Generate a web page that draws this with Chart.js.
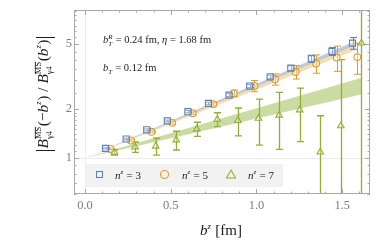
<!DOCTYPE html>
<html>
<head>
<meta charset="utf-8">
<script src="https://cdn.jsdelivr.net/npm/chart.js@4.4.1/dist/chart.umd.min.js"></script>
<style>
  html, body { margin: 0; padding: 0; background: #fff; }
  #c { display: block; }
</style>
</head>
<body>
<canvas id="c" width="382" height="243"></canvas>
<script>
// b^z positions (fm) and the small horizontal shift used for each n^z series
const bz = [0.12, 0.24, 0.36, 0.48, 0.60, 0.72, 0.84, 0.96, 1.08, 1.20, 1.32, 1.44, 1.56];
const shift3 = 0.0, shift5 = 0.028, shift7 = 0.052;

// n^z = 3 (blue squares)
const ratio3 = [1.144, 1.306, 1.488, 1.688, 1.923, 2.16, 2.43, 2.76, 3.146, 3.56, 4.07, 4.51, 5.07];
const err3 = [0.01, 0.015, 0.02, 0.02, 0.03, 0.04, 0.05, 0.06, 0.08, 0.12, 0.2, 0.26, 0.42];
// n^z = 5 (orange circles)
const ratio5 = [1.135, 1.28, 1.446, 1.641, 1.881, 2.14, 2.49, 2.77, 3.04, 3.37, 3.80, 4.13, 4.16];
const err5 = [0.01, 0.015, 0.02, 0.03, 0.04, 0.06, 0.12, 0.22, 0.24, 0.32, 0.49, 0.73, 0.9];
// n^z = 7 (green triangles)
const ratio7 = [1.082, 1.167, 1.18, 1.288, 1.505, 1.724, 1.695, 1.748, 1.829, 1.970, 1.085, 1.574, 5.07];
const err7 = [0.04, 0.085, 0.14, 0.17, 0.15, 0.17, 0.33, 0.55, 0.7, 0.71, 0.73, 2.44, 20];

// fit bands: [start, end] in b^z with lower/upper edges
const bandX3 = [0, 1.58], band3Lo = [1, 4.95], band3Hi = [1, 5.25];
const bandX5 = [0, 1.58], band5Lo = [1, 4.6], band5Hi = [1, 5.0];
const bandX7 = [0, 1.61], band7Lo = [1, 2.45], band7Hi = [1, 3.1];

// axis ticks
const xMajor = [0, 0.5, 1.0, 1.5];
const xLabels = ["0.0", "0.5", "1.0", "1.5"];
const xMinor = [0.1, 0.2, 0.3, 0.4, 0.6, 0.7, 0.8, 0.9, 1.1, 1.2, 1.3, 1.4, 1.6];
const yMajor = [1, 2, 5];
const yLabels = ["1", "2", "5"];
const yMinor = [0.6, 0.7, 0.8, 0.9, 1.1, 1.2, 1.3, 1.4, 1.5, 1.6, 1.7, 1.8, 1.9,
                2.5, 3, 3.5, 4, 4.5, 5.5, 6, 6.5, 7, 7.5, 8];

const BLUE = "#5e81b5", ORANGE = "#e19c24", GREEN = "#8fb032";
const SERIF = "'Liberation Serif', 'DejaVu Serif', serif";

function pts(xs, ys, dx = 0) {
  return xs.map((x, i) => ({ x: x + dx, y: ys[i] }));
}

function band(xs, lo, hi, color) {
  return [
    { data: pts(xs, lo), borderWidth: 0, pointRadius: 0, fill: false, order: 10, showLine: true },
    { data: pts(xs, hi), borderWidth: 0, pointRadius: 0, fill: "-1", backgroundColor: color, order: 10, showLine: true },
  ];
}

function series(dx, ys, errs, color, style, r, ew) {
  return {
    data: pts(bz, ys, dx),
    errors: errs,
    errWidth: ew,
    pointStyle: style,
    pointRadius: r,
    borderColor: color,
    backgroundColor: "rgba(255,255,255,0.35)",
    pointBorderWidth: 1.1,
    showLine: false,
    order: 0,
  };
}

// rich text: plain pieces plus stacked sup/sub pieces
function rich(ctx, parts, x0, y0, base, draw) {
  let x = x0;
  for (const p of parts) {
    if (p.sup !== undefined || p.sub !== undefined) {
      const fs = p.fs || Math.round(base * 0.6);
      ctx.font = `${p.i ? "italic " : ""}${fs}px ${SERIF}`;
      const w1 = p.sup ? ctx.measureText(p.sup).width : 0;
      const w2 = p.sub ? ctx.measureText(p.sub).width : 0;
      if (draw) {
        if (p.sup) ctx.fillText(p.sup, x, y0 - base * 0.42);
        if (p.sub) ctx.fillText(p.sub, x, y0 + base * 0.25);
        if (p.ol) {
          ctx.fillRect(x, y0 - base * 0.42 - fs * 0.78, w1, 0.8);
        }
      }
      x += Math.max(w1, w2) + 0.5;
    } else {
      const fs = p.s || base;
      ctx.font = `${p.i ? "italic " : ""}${fs}px ${SERIF}`;
      const w = ctx.measureText(p.t).width;
      if (draw) ctx.fillText(p.t, x, y0 + (p.dy || 0));
      x += w;
    }
  }
  return x - x0;
}

const decorPlugin = {
  id: "decor",
  beforeDatasetsDraw(chart) {
    const { ctx, chartArea: a, scales: { x, y } } = chart;
    ctx.save();
    ctx.strokeStyle = "#ececec";
    ctx.lineWidth = 1;
    ctx.beginPath();
    const x0 = Math.round(x.getPixelForValue(0)) + 0.5;
    ctx.moveTo(x0, a.top); ctx.lineTo(x0, a.bottom);
    const y1 = Math.round(y.getPixelForValue(1)) + 0.5;
    ctx.moveTo(a.left, y1); ctx.lineTo(a.right, y1);
    ctx.stroke();
    ctx.restore();
  },
  beforeDatasetDraw(chart, args) {
    const ds = chart.data.datasets[args.index];
    if (!ds.errors) return;
    const { ctx, chartArea: a, scales: { x, y } } = chart;
    ctx.save();
    ctx.beginPath();
    ctx.rect(a.left, a.top, a.right - a.left, a.bottom - a.top);
    ctx.clip();
    ctx.strokeStyle = ds.borderColor;
    ctx.lineWidth = ds.errWidth;
    ds.data.forEach((p, i) => {
      const e = ds.errors[i];
      const px = Math.round(x.getPixelForValue(p.x)) + 0.5;
      const hi = y.getPixelForValue(p.y + e);
      const loV = p.y - e;
      const lo = loV > 0 ? y.getPixelForValue(loV) : a.bottom + 10;
      ctx.beginPath();
      ctx.moveTo(px, hi); ctx.lineTo(px, lo);
      ctx.moveTo(px - 3.5, hi); ctx.lineTo(px + 3.5, hi);
      ctx.moveTo(px - 3.5, lo); ctx.lineTo(px + 3.5, lo);
      ctx.stroke();
    });
    ctx.restore();
  },
  afterDatasetsDraw(chart) {
    const { ctx, chartArea: a, scales: { x, y } } = chart;
    ctx.save();

    // legend box
    ctx.fillStyle = "rgba(240,240,240,0.85)";
    ctx.fillRect(85, 164, 198, 23);
    const ly = 175;
    ctx.lineWidth = 1.1;
    ctx.strokeStyle = BLUE;
    ctx.strokeRect(96.5, ly - 3.5, 6, 6);
    ctx.strokeStyle = ORANGE;
    ctx.beginPath(); ctx.arc(164.5, ly - 0.5, 4, 0, Math.PI * 2); ctx.stroke();
    ctx.strokeStyle = GREEN;
    ctx.beginPath();
    ctx.moveTo(231, ly - 5); ctx.lineTo(235.5, ly + 3); ctx.lineTo(226.5, ly + 3); ctx.closePath();
    ctx.stroke();
    ctx.fillStyle = "#222";
    ctx.textBaseline = "alphabetic";
    ctx.textAlign = "left";
    [["3", 115], ["5", 182], ["7", 248]].forEach(([n, lx]) => {
      rich(ctx, [{ t: "n", i: 1 }, { sup: "z", i: 1, fs: 7 }, { t: " = " + n }], lx, ly + 4, 11, true);
    });

    // annotations
    rich(ctx, [{ t: "b", i: 1 }, { sup: "R", sub: "T", i: 1, fs: 7 }, { t: " = 0.24 fm, " },
               { t: "η", i: 1 }, { t: " = 1.68 fm" }], 103, 43, 10.5, true);
    rich(ctx, [{ t: "b", i: 1 }, { sub: "T", i: 1, fs: 7 }, { t: " = 0.12 fm" }], 103, 71, 10.5, true);

    // frame
    ctx.strokeStyle = "#a8a8a8";
    ctx.lineWidth = 1;
    ctx.strokeRect(a.left + 0.5, a.top + 0.5, a.right - a.left - 1, a.bottom - a.top - 1);

    // ticks (inward, all four sides)
    ctx.beginPath();
    const tx = (v, len) => {
      const px = Math.round(x.getPixelForValue(v)) + 0.5;
      ctx.moveTo(px, a.bottom); ctx.lineTo(px, a.bottom - len);
      ctx.moveTo(px, a.top); ctx.lineTo(px, a.top + len);
    };
    const ty = (v, len) => {
      const py = Math.round(y.getPixelForValue(v)) + 0.5;
      ctx.moveTo(a.left, py); ctx.lineTo(a.left + len, py);
      ctx.moveTo(a.right, py); ctx.lineTo(a.right - len, py);
    };
    xMajor.forEach((v) => tx(v, 5));
    xMinor.forEach((v) => tx(v, 2.5));
    yMajor.forEach((v) => ty(v, 5));
    yMinor.forEach((v) => ty(v, 2.5));
    ctx.stroke();

    // tick labels
    ctx.fillStyle = "#7d7d7d";
    ctx.font = `12.5px ${SERIF}`;
    ctx.textAlign = "center";
    ctx.textBaseline = "middle";
    xMajor.forEach((v, i) => ctx.fillText(xLabels[i], x.getPixelForValue(v), 206));
    ctx.textAlign = "right";
    yMajor.forEach((v, i) => ctx.fillText(yLabels[i], 72, y.getPixelForValue(v)));

    // x title
    ctx.fillStyle = "#1a1a1a";
    ctx.textAlign = "left";
    ctx.textBaseline = "alphabetic";
    const xParts = [{ t: "b", i: 1 }, { sup: "z", i: 1, fs: 9 }, { t: " [fm]" }];
    const xw = rich(ctx, xParts, 0, 0, 15, false);
    rich(ctx, xParts, 221 - xw / 2, 235, 15, true);

    // y title (rotated)
    const yParts = [
      { t: "|", s: 20, dy: 1.5 }, { t: "B", i: 1 }, { sup: "MS", sub: "γ4", ol: 1, fs: 8.5 },
      { t: "(−" }, { t: "b", i: 1 }, { sup: "z", i: 1, fs: 8.5 }, { t: ") / " },
      { t: "B", i: 1 }, { sup: "MS", sub: "γ4", ol: 1, fs: 8.5 },
      { t: "(" }, { t: "b", i: 1 }, { sup: "z", i: 1, fs: 8.5 }, { t: ")" }, { t: "|", s: 20, dy: 1.5 },
    ];
    const yw = rich(ctx, yParts, 0, 0, 15.5, false);
    ctx.translate(48, 94);
    ctx.rotate(-Math.PI / 2);
    rich(ctx, yParts, -yw / 2, 0, 15.5, true);

    ctx.restore();
  },
};

new Chart(document.getElementById("c"), {
  type: "scatter",
  data: {
    datasets: [
      series(shift3, ratio3, err3, BLUE, "rect", 4.3, 1),
      series(shift5, ratio5, err5, ORANGE, "circle", 3.4, 1),
      series(shift7, ratio7, err7, GREEN, "triangle", 3.8, 1.3),
      ...band(bandX3, band3Lo, band3Hi, "rgba(94,129,181,0.4)"),
      ...band(bandX5, band5Lo, band5Hi, "rgba(225,156,36,0.35)"),
      ...band(bandX7, band7Lo, band7Hi, "rgba(143,176,50,0.45)"),
    ],
  },
  options: {
    responsive: false,
    animation: false,
    layout: { padding: { left: 74, right: 12, top: 10, bottom: 49 } },
    plugins: { legend: { display: false }, tooltip: { enabled: false } },
    scales: {
      x: { type: "linear", min: -0.064, max: 1.662, display: false },
      y: { type: "logarithmic", min: 0.6, max: 8.1, display: false },
    },
  },
  plugins: [decorPlugin],
});
</script>
</body>
</html>
